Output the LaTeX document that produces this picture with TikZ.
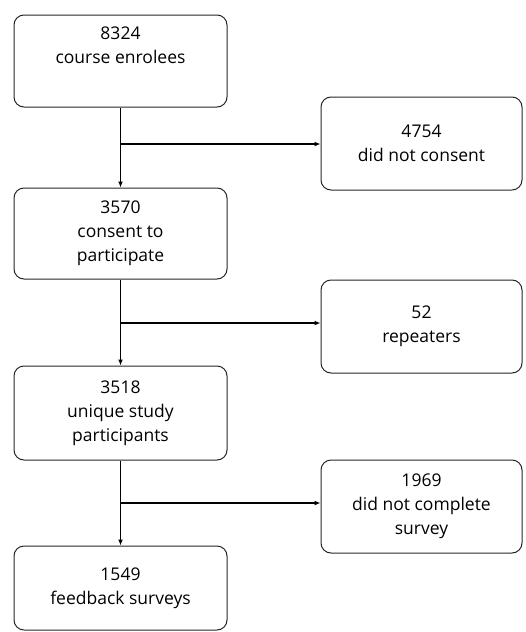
\documentclass[tikz,border=0pt]{standalone}
\usepackage{fontspec}
\setmainfont{Open Sans}
\usetikzlibrary{arrows.meta}
\begin{document}
\begin{tikzpicture}[x=1pt,y=-1pt,
  box/.style={draw=black!85, line width=1pt, rounded corners=10pt, align=center,
    font=\fontsize{17.5}{24}\selectfont, inner sep=0pt},
  lbox/.style={box, minimum width=213pt},
  rbox/.style={box, minimum width=201pt},
  arr/.style={line width=1.8pt, -{Latex[length=6pt,width=5pt]}},
  ]
\useasboundingbox (0,0) rectangle (525,632);
\node[lbox, minimum height=92pt] (b1) at (120.5,61) {8324\\course enrolees\\\strut};
\node[lbox, minimum height=91pt] (b2) at (120.5,233.5) {3570\\consent to\\participate};
\node[lbox, minimum height=94pt] (b3) at (120.5,413) {3518\\unique study\\participants};
\node[lbox, minimum height=84pt] (b4) at (120.5,588) {1549\\feedback surveys};
\node[rbox, minimum height=93pt] (r1) at (421.5,143.5) {4754\\did not consent};
\node[rbox, minimum height=93pt] (r2) at (421.5,326.5) {52\\repeaters};
\node[rbox, minimum height=93pt] (r3) at (421.5,506.5) {1969\\did not complete\\survey};
\coordinate (j1) at (120.5,144);
\coordinate (j2) at (120.5,323);
\coordinate (j3) at (120.5,503);
\draw[arr] (b1) -- (b2);
\draw[arr] (b2) -- (b3);
\draw[arr] (b3) -- (b4);
\draw[arr, line width=1.5pt] (j1) -- (j1 -| r1.west);
\draw[arr, line width=1.5pt] (j2) -- (j2 -| r2.west);
\draw[arr, line width=1.5pt] (j3) -- (j3 -| r3.west);
\end{tikzpicture}
\end{document}
